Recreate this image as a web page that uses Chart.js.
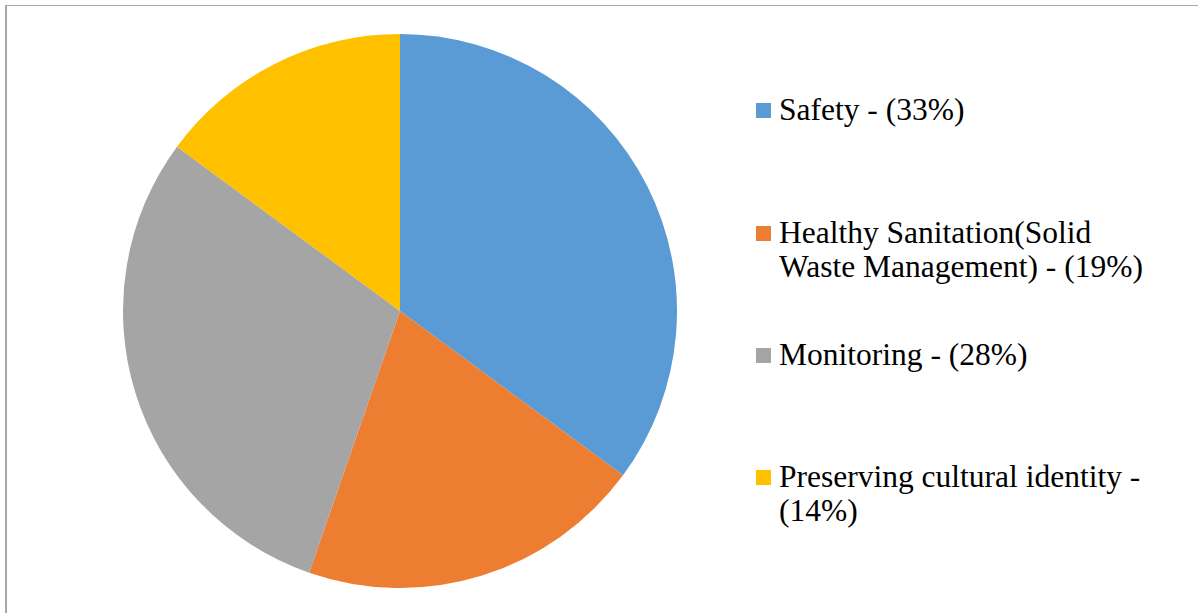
<!DOCTYPE html>
<html>
<head>
<meta charset="utf-8">
<script src="https://cdn.jsdelivr.net/npm/chart.js@4/dist/chart.umd.min.js"></script>
<style>
  html, body {
    margin: 0;
    padding: 0;
    background: #ffffff;
  }
  #page {
    position: relative;
    width: 1198px;
    height: 613px;
    overflow: hidden;
  }
  #frame {
    position: absolute;
    left: 5px;
    top: 5px;
    width: 1200px;
    height: 620px;
    border-top: 1px solid #a6a6a6;
    border-left: 2px solid #a6a6a6;
  }
  #pieBox {
    position: absolute;
    left: 123px;
    top: 34px;
    width: 554px;
    height: 554px;
  }
  #legend {
    position: absolute;
    left: 756px;
    top: 0;
    margin: 0;
    padding: 0;
    list-style: none;
    font-family: "Liberation Serif", "Times New Roman", serif;
    font-size: 31.5px;
    line-height: 34px;
    color: #000000;
  }
  #legend li {
    position: absolute;
    left: 0;
    white-space: nowrap;
  }
  #legend .box {
    position: absolute;
    left: 0;
    top: 10px;
    width: 15px;
    height: 15px;
  }
  #legend .text {
    margin-left: 23px;
  }
</style>
</head>
<body>
<div id="page">
  <div id="frame"></div>
  <div id="pieBox"><canvas id="myChart"></canvas></div>
  <ul id="legend"></ul>
</div>
<script>
// legend text, one entry per slice (lines as they wrap in the picture)
const categories = [
  ["Safety - (33%)"],
  ["Healthy Sanitation(Solid", "Waste Management) - (19%)"],
  ["Monitoring - (28%)"],
  ["Preserving cultural identity -", "(14%)"],
];
const sliceValues = [33, 19, 28, 14];
const sliceColors = ["#5b9bd5", "#ed7d31", "#a5a5a5", "#ffc000"];

// first-line tops of the legend entries
const legendTops = [93, 216, 338, 460];

function chart() {
  const ctx = document.getElementById("myChart");
  const myChart = new Chart(ctx, {
    type: "pie",
    data: returnPieData(),
    options: returnOptions(),
  });
  renderLegend(myChart);
}

function returnPieData() {
  let pieData = {
    labels: categories,
    datasets: [
      {
        data: sliceValues,
        backgroundColor: sliceColors,
        borderWidth: 0,
        hoverOffset: 0,
      },
    ],
  };
  return pieData;
}

function returnOptions() {
  let selectedOptions = {
    responsive: true,
    maintainAspectRatio: false,
    animation: false,
    layout: { padding: 0 },
    plugins: {
      legend: { display: false },
      tooltip: { enabled: false },
    },
  };
  return selectedOptions;
}

function renderLegend(myChart) {
  const list = document.getElementById("legend");
  const items = myChart.options.plugins.legend.labels.generateLabels(myChart);
  for (let i = 0; i < items.length; i++) {
    const li = document.createElement("li");
    li.style.top = legendTops[i] + "px";
    const box = document.createElement("span");
    box.className = "box";
    box.style.background = items[i].fillStyle;
    const text = document.createElement("div");
    text.className = "text";
    const lines = categories[i];
    for (let j = 0; j < lines.length; j++) {
      const line = document.createElement("div");
      line.textContent = lines[j];
      text.appendChild(line);
    }
    li.appendChild(box);
    li.appendChild(text);
    list.appendChild(li);
  }
}

chart();
</script>
</body>
</html>
